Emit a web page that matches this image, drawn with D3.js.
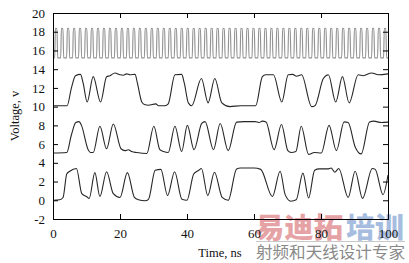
<!DOCTYPE html>
<html>
<head>
<meta charset="utf-8">
<script src="https://cdn.jsdelivr.net/npm/d3@7"></script>
<style>
html,body{margin:0;padding:0;background:#fff;}
svg{display:block;}
</style>
</head>
<body>
<svg id="chart" width="409" height="263"></svg>
<script>
// ---- data ----
const xTicks = [0, 20, 40, 60, 80, 100];
const yTicks = [-2, 0, 2, 4, 6, 8, 10, 12, 14, 16, 18, 20];
const xLabel = "Time, ns";
const yLabel = "Voltage, v";

// clock: rising edge times (ns) and levels (V)
const clockRise = [0.5, 2.29, 4.07, 5.86, 7.64, 9.43, 11.21, 13.0, 14.78, 16.57, 18.35, 20.14, 21.92, 23.71, 25.49, 27.28, 29.06, 30.85, 32.63, 34.42, 36.2, 37.99, 39.77, 41.56, 43.34, 45.13, 46.91, 48.7, 50.48, 52.27, 54.05, 55.84, 57.62, 59.41, 61.19, 62.98, 64.76, 66.55, 68.33, 70.12, 71.9, 73.69, 75.47, 77.26, 79.04, 80.83, 82.61, 84.4, 86.18, 87.97, 89.75, 91.54, 93.32, 95.11, 96.89, 98.68];
const clockLow = 15.2;
const clockHigh = 18.35;

// signal traces: times (ns) and voltages (V)
const s1T = [0, 4.2, 5.5, 6.7, 8.2, 9.0, 10.2, 12.0, 14.2, 16.0, 17.0, 18.5, 20.0, 21.0, 22.0, 23.0, 24.5, 25.2, 26.5, 27.5, 28.5, 30.7, 31.5, 33.4, 34.4, 36.4, 38.4, 39.2, 40.4, 41.4, 44.3, 46.3, 48.3, 50.4, 52.8, 56.0, 60.5, 62.5, 63.5, 65.8, 68.3, 70.2, 71.5, 72.7, 74.2, 77.2, 78.2, 80.7, 82.2, 84.4, 86.4, 88.4, 91.1, 92.6, 95.1, 97.1, 100];
const s1V = [10.1, 10.1, 12.0, 13.3, 13.45, 12.5, 10.5, 13.2, 10.5, 13.2, 13.3, 13.6, 13.4, 13.35, 13.5, 13.4, 13.45, 12.5, 10.5, 10.2, 10.15, 10.3, 10.1, 10.1, 10.3, 13.4, 13.45, 12.5, 10.4, 10.1, 13.0, 10.4, 13.0, 10.4, 10.0, 10.1, 10.1, 13.2, 13.4, 13.4, 10.5, 13.4, 13.45, 13.25, 13.4, 10.0, 10.1, 13.0, 13.4, 10.5, 13.2, 10.4, 13.4, 13.3, 13.6, 13.4, 13.5];

const s2T = [0, 4.1, 5.5, 6.8, 7.8, 8.5, 10.5, 11.2, 12.0, 14.0, 16.0, 18.0, 20.3, 21.5, 22.5, 23.5, 25.0, 28.0, 30.1, 31.9, 33.0, 34.4, 36.4, 38.4, 40.1, 42.1, 44.4, 45.4, 47.9, 49.9, 52.3, 54.8, 57.0, 60.3, 61.5, 62.5, 63.6, 66.0, 68.2, 70.1, 71.1, 72.5, 74.1, 76.3, 78.0, 80.1, 82.4, 84.6, 86.9, 88.1, 90.2, 92.0, 94.5, 95.8, 98.0, 100];
const s2V = [5.05, 5.1, 7.0, 8.3, 8.4, 8.0, 5.4, 5.1, 5.1, 7.9, 5.5, 8.15, 5.5, 5.3, 5.4, 5.2, 5.1, 5.0, 7.9, 5.4, 5.2, 5.1, 7.9, 5.2, 8.0, 5.4, 8.2, 8.4, 5.4, 8.2, 5.3, 8.35, 8.4, 8.4, 8.3, 8.45, 8.35, 5.4, 8.1, 5.3, 5.1, 5.2, 7.9, 4.9, 5.1, 5.05, 8.0, 5.3, 8.37, 8.3, 5.7, 4.95, 8.37, 8.45, 8.3, 8.35];

const s3T = [0, 2.0, 3.0, 4.1, 5.0, 7.0, 8.6, 10.0, 10.8, 12.5, 14.0, 16.0, 18.0, 20.0, 22.2, 24.3, 25.5, 27.5, 28.5, 30.5, 32.2, 34.2, 36.3, 38.5, 40.0, 42.0, 43.5, 44.3, 46.2, 48.2, 50.5, 52.3, 54.8, 56.0, 60.0, 62.0, 65.5, 67.8, 69.3, 71.0, 72.6, 74.6, 76.3, 78.1, 79.5, 82.0, 83.0, 84.1, 85.3, 88.1, 90.2, 92.4, 95.3, 96.2, 98.5, 100];
const s3V = [0.0, 0.05, 0.3, 2.8, 3.1, 3.4, 0.7, 0.4, 0.2, 2.95, 0.4, 3.05, 0.7, 0.3, 2.95, 0.3, 0.05, -0.05, 0.1, 3.2, 3.3, 0.5, 3.05, 0.1, 0.0, 2.8, 3.2, 3.4, 0.5, 3.0, 0.3, 0.0, 3.35, 3.45, 3.45, 3.3, 0.4, 3.1, 0.6, -0.1, 0.05, 2.9, 0.25, 3.2, 3.35, 3.35, 3.45, 3.0, 3.4, 0.3, 3.1, 0.2, 3.4, 3.3, 0.6, 2.7];

const watermarkLogoA = "易迪拓";
const watermarkLogoB = "培训";
const watermarkSub = "射频和天线设计专家";

// ---- layout ----
const svg = d3.select("#chart");
const W = 409, H = 263;
const m = {left: 53, right: 21, top: 13, bottom: 44};
const x = d3.scaleLinear().domain([0, 100]).range([m.left, W - m.right]);
const y = d3.scaleLinear().domain([-2, 20]).range([H - m.bottom, m.top]);
const serif = "'Liberation Serif', 'DejaVu Serif', serif";

// watermark (behind)
const wm = svg.append("g");
wm.append("text").attr("x", 255).attr("y", 238)
  .attr("font-family", "'Noto Sans CJK SC'").attr("font-weight", 900)
  .attr("font-size", 28).attr("fill", "#e6a3a6")
  .attr("textLength", 88).attr("lengthAdjust", "spacingAndGlyphs")
  .text(watermarkLogoA);
wm.append("text").attr("x", 346).attr("y", 238)
  .attr("font-family", "'Noto Sans CJK SC'").attr("font-weight", 900)
  .attr("font-size", 28).attr("fill", "#a7bddf")
  .attr("textLength", 58).attr("lengthAdjust", "spacingAndGlyphs")
  .text(watermarkLogoB);
wm.append("line").attr("x1", 256).attr("x2", 405).attr("y1", 241.5).attr("y2", 241.5)
  .attr("stroke", "#c8c8c8").attr("stroke-width", 1);
wm.append("text").attr("x", 256).attr("y", 258)
  .attr("font-family", "'Noto Sans CJK SC'")
  .attr("font-size", 15.5).attr("fill", "#8a8a8a")
  .attr("textLength", 149).attr("lengthAdjust", "spacingAndGlyphs")
  .text(watermarkSub);

// clock path points built from edge times
const clockPts = [[0, clockLow]];
clockRise.forEach(r => {
  clockPts.push([r, clockLow], [r + 0.22, clockHigh], [r + 0.68, clockHigh], [r + 0.9, clockLow]);
});
clockPts.push([100, clockLow]);

const line = d3.line().x(d => x(d[0])).y(d => y(d[1])).curve(d3.curveMonotoneX);

const plot = svg.append("g");
plot.append("path").datum(clockPts.filter(p => p[0] <= 100))
  .attr("d", line).attr("fill", "none").attr("stroke", "#939393").attr("stroke-width", 1.15);

[[s1T, s1V], [s2T, s2V], [s3T, s3V]].forEach(([T, V]) => {
  const pts = T.map((t, i) => [t, V[i]]);
  plot.append("path").datum(pts).attr("d", line)
    .attr("fill", "none").attr("stroke", "#262626").attr("stroke-width", 1.1)
    .attr("stroke-linejoin", "round");
});

// axes with inside ticks on all sides
const tickLen = 5;
const axB = svg.append("g").attr("transform", `translate(0,${y(-2)})`)
  .call(d3.axisBottom(x).tickValues(xTicks).tickSize(-tickLen).tickPadding(10).tickFormat(d3.format("d")));
const axT = svg.append("g").attr("transform", `translate(0,${y(20)})`)
  .call(d3.axisTop(x).tickValues(xTicks).tickSize(-tickLen).tickFormat(""));
const axL = svg.append("g").attr("transform", `translate(${x(0)},0)`)
  .call(d3.axisLeft(y).tickValues(yTicks).tickSize(-tickLen).tickPadding(8).tickFormat(d => d < 0 ? "-" + Math.abs(d) : d));
const axR = svg.append("g").attr("transform", `translate(${x(100)},0)`)
  .call(d3.axisRight(y).tickValues(yTicks).tickSize(-tickLen).tickFormat(""));

[axB, axT, axL, axR].forEach(a => {
  a.select(".domain").attr("stroke", "#000").attr("stroke-width", 1);
  a.selectAll(".tick line").attr("stroke", "#000");
  a.selectAll("text").attr("font-family", serif).attr("font-size", 13).attr("fill", "#111");
});
axB.selectAll("text").attr("dy", "0.71em");

svg.append("text").attr("x", 220).attr("y", 257).attr("text-anchor", "middle")
  .attr("font-family", serif).attr("font-size", 12.5).attr("fill", "#111").text(xLabel);
svg.append("text").attr("transform", `translate(19,${(y(-2) + y(20)) / 2}) rotate(-90)`)
  .attr("text-anchor", "middle").attr("font-family", serif).attr("font-size", 12.5)
  .attr("fill", "#111").text(yLabel);
</script>
</body>
</html>
